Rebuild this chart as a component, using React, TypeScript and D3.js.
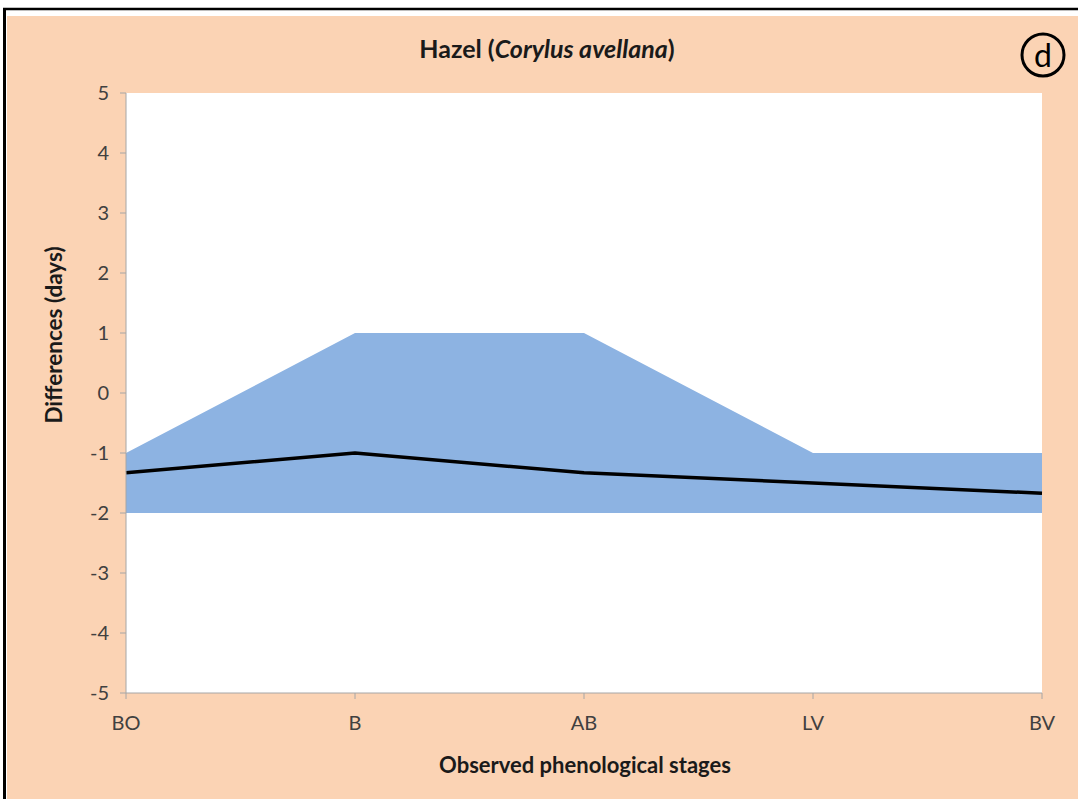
import React from 'react';
import * as d3 from 'd3';

const stages = ['BO', 'B', 'AB', 'LV', 'BV'];
const upperBound = [-1, 1, 1, -1, -1];
const lowerBound = [-2, -2, -2, -2, -2];
const meanDiff = [-1.33, -1, -1.33, -1.5, -1.67];
const yTicks = [5, 4, 3, 2, 1, 0, -1, -2, -3, -4, -5];

const W = 1078;
const H = 799;
const plot = { left: 126, right: 1042, top: 93, bottom: 693 };
const font = 'Lato, "Open Sans", sans-serif';
const tickColor = '#404040';
const axisColor = '#a6a6a6';

const App = (): React.ReactElement => {
  const x = d3.scalePoint<string>().domain(stages).range([plot.left, plot.right]);
  const y = d3.scaleLinear().domain([-5, 5]).range([plot.bottom, plot.top]);

  const band = d3
    .area<number>()
    .x((_, i) => x(stages[i]) as number)
    .y0((_, i) => y(lowerBound[i]))
    .y1((d) => y(d));

  const line = d3
    .line<number>()
    .x((_, i) => x(stages[i]) as number)
    .y((d) => y(d));

  return (
    <svg
      width={W}
      height={H}
      style={{ position: 'absolute', left: 0, top: 0, display: 'block' }}
      fontFamily={font}
    >
      <rect x={0} y={0} width={W} height={H} fill="#fff" />
      <rect x={7} y={16} width={W - 7} height={H - 16} fill="#fbd3b4" />
      {/* outer frame */}
      <line x1={4.5} y1={8} x2={4.5} y2={H} stroke="#000" strokeWidth={3} />
      <line x1={3} y1={9} x2={W} y2={9} stroke="#000" strokeWidth={2.5} />

      <rect
        x={plot.left}
        y={plot.top}
        width={plot.right - plot.left}
        height={plot.bottom - plot.top}
        fill="#fff"
      />

      <path d={band(upperBound) ?? ''} fill="#8db3e2" />
      <path d={line(meanDiff) ?? ''} fill="none" stroke="#000" strokeWidth={3.5} strokeLinejoin="round" />

      {/* y axis */}
      <line x1={plot.left} y1={plot.top} x2={plot.left} y2={plot.bottom} stroke={axisColor} strokeWidth={1} />
      {yTicks.map((t) => (
        <g key={t}>
          <line x1={plot.left - 6} x2={plot.left} y1={y(t)} y2={y(t)} stroke={axisColor} />
          <text
            x={plot.left - 17}
            y={y(t)}
            dy="0.35em"
            textAnchor="end"
            fontSize={20}
            fill={tickColor}
          >
            {t}
          </text>
        </g>
      ))}

      {/* x axis */}
      <line x1={plot.left} y1={plot.bottom} x2={plot.right} y2={plot.bottom} stroke={axisColor} strokeWidth={1} />
      {stages.map((s) => (
        <g key={s}>
          <line x1={x(s)} x2={x(s)} y1={plot.bottom} y2={plot.bottom + 6} stroke={axisColor} />
          <text x={x(s)} y={730} textAnchor="middle" fontSize={20} fill={tickColor}>
            {s}
          </text>
        </g>
      ))}

      <text x={585} y={773} textAnchor="middle" fontSize={22} fontWeight="bold" fill="#1a1a1a">
        Observed phenological stages
      </text>
      <text
        transform={`translate(62,${335}) rotate(-90)`}
        textAnchor="middle"
        fontSize={22.5}
        fontWeight="bold"
        fill="#1a1a1a"
      >
        Differences (days)
      </text>

      <text x={547} y={58} textAnchor="middle" fontSize={25} fontWeight="bold" fill="#1a1a1a">
        Hazel (<tspan fontStyle="italic">Corylus avellana</tspan>)
      </text>

      <circle cx={1043} cy={55} r={21} fill="none" stroke="#000" strokeWidth={3} />
      <text x={1043} y={55} dy="0.36em" textAnchor="middle" fontSize={32} fill="#000">
        d
      </text>
    </svg>
  );
};

export default App;
